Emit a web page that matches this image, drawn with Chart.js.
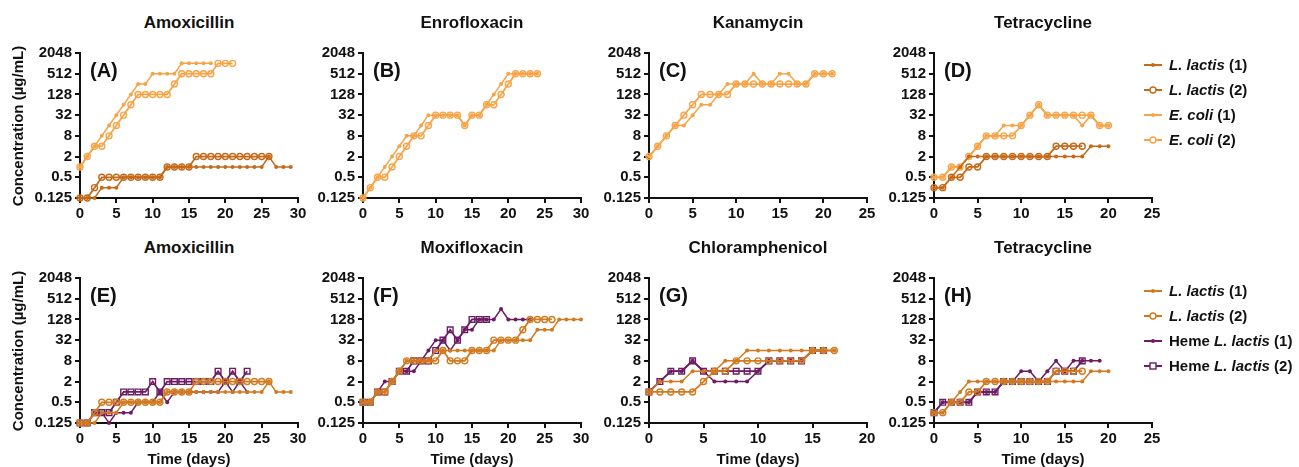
<!DOCTYPE html>
<html>
<head>
<meta charset="utf-8">
<script src="https://cdn.jsdelivr.net/npm/chart.js@4.4.1/dist/chart.umd.min.js"></script>
<style>
    body { margin: 0; background: #fff; }
    #wrap { position: relative; width: 1299px; height: 467px; overflow: hidden; font-family: 'Liberation Sans', Arial, sans-serif; font-weight: bold; color: #111; }
    #wrap canvas { position: absolute; }
    .lbl { position: absolute; white-space: nowrap; }
    .title { font-size: 17px; text-align: center; height: 20px; line-height: 20px; }
    .letter { font-size: 20px; height: 24px; line-height: 24px; }
    .ytitle { font-size: 15px; width: 220px; height: 20px; line-height: 20px; text-align: center; transform: rotate(-90deg); }
    .xtitle { font-size: 15px; text-align: center; height: 20px; line-height: 20px; }
    .leg { font-size: 15px; height: 20px; line-height: 20px; display: flex; align-items: center; }
    .leg svg { margin-right: 7px; }
</style>
</head>
<body>
<div id="wrap"></div>
<script>
const days = [0, 1, 2, 3, 4, 5, 6, 7, 8, 9, 10, 11, 12, 13, 14, 15, 16, 17, 18, 19, 20, 21, 22, 23, 24, 25, 26, 27, 28, 29, 30];
const yTicks = [0.125, 0.5, 2, 8, 32, 128, 512, 2048];

// (A) Amoxicillin
const aLactis1 = [0.125, 0.125, 0.125, 0.25, 0.25, 0.25, 0.5, 0.5, 0.5, 0.5, 0.5, 0.5, 1, 1, 1, 1, 1, 1, 1, 1, 1, 1, 1, 1, 1, 1, 2, 1, 1, 1];
const aLactis2 = [0.125, 0.125, 0.25, 0.5, 0.5, 0.5, 0.5, 0.5, 0.5, 0.5, 0.5, 0.5, 1, 1, 1, 1, 2, 2, 2, 2, 2, 2, 2, 2, 2, 2, 2];
const aColi1 = [1, 2, 4, 8, 16, 32, 64, 128, 256, 256, 512, 512, 512, 512, 1024, 1024, 1024, 1024, 1024];
const aColi2 = [1, 2, 4, 4, 8, 16, 32, 64, 128, 128, 128, 128, 128, 256, 512, 512, 512, 512, 512, 1024, 1024, 1024];

// (B) Enrofloxacin
const bColi1 = [0.125, 0.25, 0.5, 1, 2, 4, 8, 8, 16, 32, 32, 32, 32, 32, 16, 32, 32, 64, 128, 256, 512, 512, 512, 512, 512];
const bColi2 = [0.125, 0.25, 0.5, 0.5, 1, 2, 4, 8, 8, 16, 32, 32, 32, 32, 16, 32, 32, 64, 64, 128, 256, 512, 512, 512, 512];

// (C) Kanamycin
const cColi1 = [2, 4, 8, 16, 16, 32, 64, 64, 128, 256, 256, 256, 512, 256, 256, 512, 512, 256, 256, 512, 512, 512];
const cColi2 = [2, 4, 8, 16, 32, 64, 128, 128, 128, 128, 256, 256, 256, 256, 256, 256, 256, 256, 256, 512, 512, 512];

// (D) Tetracycline
const dLactis1 = [0.25, 0.25, 0.5, 1, 2, 2, 2, 2, 2, 2, 2, 2, 2, 2, 2, 2, 2, 2, 4, 4, 4];
const dLactis2 = [0.25, 0.25, 0.5, 0.5, 1, 1, 2, 2, 2, 2, 2, 2, 2, 2, 4, 4, 4, 4];
const dColi1 = [0.5, 0.5, 1, 1, 2, 4, 8, 8, 16, 16, 16, 32, 64, 32, 32, 32, 32, 16, 32, 16, 16];
const dColi2 = [0.5, 0.5, 1, 1, 2, 4, 8, 8, 8, 8, 16, 32, 64, 32, 32, 32, 32, 32, 32, 16, 16];

// (E) Amoxicillin
const eLactis1 = [0.125, 0.125, 0.125, 0.25, 0.25, 0.25, 0.5, 0.5, 0.5, 0.5, 0.5, 0.5, 1, 1, 1, 1, 1, 1, 1, 1, 1, 1, 1, 1, 1, 1, 2, 1, 1, 1];
const eLactis2 = [0.125, 0.125, 0.25, 0.5, 0.5, 0.5, 0.5, 0.5, 0.5, 0.5, 0.5, 0.5, 1, 1, 1, 1, 2, 2, 2, 2, 2, 2, 2, 2, 2, 2, 2];
const eHeme1 = [0.125, 0.125, 0.25, 0.25, 0.125, 0.25, 0.25, 0.25, 0.5, 0.5, 0.5, 1, 0.5, 1, 1, 1, 1, 1, 1, 1, 2, 1, 2, 1];
const eHeme2 = [0.125, 0.125, 0.25, 0.25, 0.25, 0.5, 1, 1, 1, 1, 2, 1, 2, 2, 2, 2, 2, 2, 2, 4, 2, 4, 2, 4];

// (F) Moxifloxacin
const fLactis1 = [0.5, 0.5, 1, 1, 2, 4, 8, 8, 8, 8, 16, 16, 16, 16, 16, 16, 16, 16, 16, 32, 32, 32, 32, 32, 64, 64, 64, 128, 128, 128, 128];
const fLactis2 = [0.5, 0.5, 1, 1, 2, 4, 8, 8, 8, 8, 8, 16, 8, 8, 8, 16, 16, 16, 32, 32, 32, 32, 64, 128, 128, 128, 128];
const fHeme1 = [0.5, 0.5, 1, 2, 2, 4, 4, 4, 8, 16, 32, 32, 16, 32, 64, 64, 128, 128, 128, 256, 128, 128, 128, 128];
const fHeme2 = [0.5, 0.5, 1, 1, 2, 4, 4, 8, 8, 8, 16, 32, 64, 32, 64, 128, 128, 128];

// (G) Chloramphenicol
const gLactis1 = [1, 2, 2, 2, 4, 4, 4, 8, 8, 16, 16, 16, 16, 16, 16, 16, 16, 16];
const gLactis2 = [1, 1, 1, 1, 1, 2, 4, 4, 8, 8, 8, 8, 8, 8, 8, 16, 16, 16];
const gHeme1 = [1, 2, 4, 4, 8, 4, 2, 2, 2, 2, 4, 8, 8, 8, 8, 16, 16];
const gHeme2 = [1, 2, 4, 4, 8, 4, 4, 4, 4, 4, 4, 8, 8, 8, 8, 16, 16];

// (H) Tetracycline
const hLactis1 = [0.25, 0.25, 0.5, 1, 2, 2, 2, 2, 2, 2, 2, 2, 2, 2, 2, 2, 2, 2, 4, 4, 4];
const hLactis2 = [0.25, 0.25, 0.5, 0.5, 1, 1, 2, 2, 2, 2, 2, 2, 2, 2, 4, 4, 4, 4];
const hHeme1 = [0.25, 0.5, 0.5, 0.5, 0.5, 1, 1, 1, 2, 2, 4, 4, 2, 4, 8, 4, 8, 8, 8, 8];
const hHeme2 = [0.25, 0.5, 0.5, 0.5, 0.5, 1, 1, 1, 2, 2, 2, 2, 2, 2, 4, 4, 4, 8];

const topLegend = ['L. lactis (1)', 'L. lactis (2)', 'E. coli (1)', 'E. coli (2)'];
const bottomLegend = ['L. lactis (1)', 'L. lactis (2)', 'Heme L. lactis (1)', 'Heme L. lactis (2)'];

const kinds = {
    lac1: { color: '#C56A19', shape: 'circle', open: false },
    lac2: { color: '#C56A19', shape: 'circle', open: true },
    coli1: { color: '#F6A447', shape: 'circle', open: false },
    coli2: { color: '#F6A447', shape: 'circle', open: true },
    blac1: { color: '#D27A1F', shape: 'circle', open: false },
    blac2: { color: '#D27A1F', shape: 'circle', open: true },
    heme1: { color: '#6D1C64', shape: 'circle', open: false },
    heme2: { color: '#6D1C64', shape: 'rect', open: true }
};

const TOP = 53, BOTTOM = 278, PLOT_W = 218, PLOT_H = 145;

const panels = [
    { letter: 'A', title: 'Amoxicillin', x: 80, y: TOP, xMax: 30, lines: [[aLactis1, 'lac1'], [aLactis2, 'lac2'], [aColi1, 'coli1'], [aColi2, 'coli2']] },
    { letter: 'B', title: 'Enrofloxacin', x: 363, y: TOP, xMax: 30, lines: [[bColi1, 'coli1'], [bColi2, 'coli2']] },
    { letter: 'C', title: 'Kanamycin', x: 649, y: TOP, xMax: 25, lines: [[cColi1, 'coli1'], [cColi2, 'coli2']] },
    { letter: 'D', title: 'Tetracycline', x: 934, y: TOP, xMax: 25, lines: [[dLactis1, 'lac1'], [dLactis2, 'lac2'], [dColi1, 'coli1'], [dColi2, 'coli2']] },
    { letter: 'E', title: 'Amoxicillin', x: 80, y: BOTTOM, xMax: 30, lines: [[eLactis1, 'blac1'], [eLactis2, 'blac2'], [eHeme1, 'heme1'], [eHeme2, 'heme2']] },
    { letter: 'F', title: 'Moxifloxacin', x: 363, y: BOTTOM, xMax: 30, lines: [[fLactis1, 'blac1'], [fLactis2, 'blac2'], [fHeme1, 'heme1'], [fHeme2, 'heme2']] },
    { letter: 'G', title: 'Chloramphenicol', x: 649, y: BOTTOM, xMax: 20, lines: [[gLactis1, 'blac1'], [gLactis2, 'blac2'], [gHeme1, 'heme1'], [gHeme2, 'heme2']] },
    { letter: 'H', title: 'Tetracycline', x: 934, y: BOTTOM, xMax: 25, lines: [[hLactis1, 'blac1'], [hLactis2, 'blac2'], [hHeme1, 'heme1'], [hHeme2, 'heme2']] }
];

Chart.defaults.font.family = `'Liberation Sans', Arial, sans-serif`;
Chart.defaults.font.weight = 'bold';
Chart.defaults.font.size = 15;
Chart.defaults.color = '#111';

const wrap = document.querySelector('#wrap');

function addLabel(cls, html, style) {
    const div = document.createElement('div');
    div.className = `lbl ${cls}`;
    div.innerHTML = html;
    Object.assign(div.style, style);
    wrap.append(div);
}

function makeDataset(values, kind) {
    const k = kinds[kind];
    return {
        data: values.map((v, i) => ({ x: days[i], y: v })),
        borderColor: k.color,
        backgroundColor: k.color,
        borderWidth: k.open ? 1.8 : 1.5,
        pointStyle: k.shape,
        pointRadius: k.open ? (k.shape === 'rect' ? 4 : 3) : 2,
        pointHoverRadius: 0,
        pointBorderWidth: k.open ? 1.4 : 0,
        pointBackgroundColor: k.open ? 'rgba(0,0,0,0)' : k.color,
        pointBorderColor: k.color,
        tension: 0,
        fill: false,
        clip: false
    };
}

function drawPanel(p) {
    const canvas = document.createElement('canvas');
    canvas.width = 80 + PLOT_W + 20;
    canvas.height = 13 + PLOT_H + 30;
    canvas.style.left = `${p.x - 80}px`;
    canvas.style.top = `${p.y - 13}px`;
    wrap.append(canvas);

    new Chart(canvas.getContext('2d'), {
        type: 'line',
        data: { datasets: p.lines.map(([values, kind]) => makeDataset(values, kind)) },
        options: {
            responsive: false,
            animation: false,
            layout: { padding: { top: 13, right: 20, left: 0, bottom: 0 } },
            plugins: { legend: { display: false }, tooltip: { enabled: false } },
            scales: {
                x: {
                    type: 'linear',
                    min: 0,
                    max: p.xMax,
                    ticks: { stepSize: 5, padding: 2, color: '#111', autoSkip: false, maxRotation: 0 },
                    grid: { drawOnChartArea: false, tickLength: 5, color: '#111', lineWidth: 2 },
                    border: { display: true, color: '#111', width: 2 },
                    afterFit: s => { s.height = 30; }
                },
                y: {
                    type: 'logarithmic',
                    min: 0.125,
                    max: 2048,
                    afterBuildTicks: s => { s.ticks = yTicks.map(v => ({ value: v })); },
                    ticks: { padding: 3, color: '#111', autoSkip: false, callback: v => `${v}` },
                    grid: { drawOnChartArea: false, tickLength: 5, color: '#111', lineWidth: 2 },
                    border: { display: true, color: '#111', width: 2 },
                    afterFit: s => { s.width = 80; }
                }
            }
        }
    });

    addLabel('title', p.title, { left: `${p.x}px`, width: `${PLOT_W}px`, top: `${p.y - 40}px` });
    addLabel('letter', `(${p.letter})`, { left: `${p.x + 10}px`, top: `${p.y + 5}px` });
    if (p.y === BOTTOM) {
        addLabel('xtitle', 'Time (days)', { left: `${p.x}px`, width: `${PLOT_W}px`, top: `${p.y + PLOT_H + 26}px` });
    }
}

function legendIcon(kind) {
    const k = kinds[kind];
    let mark = `<circle cx="9" cy="6" r="2" fill="${k.color}"/>`;
    if (k.open && k.shape === 'rect') {
        mark = `<rect x="6" y="3" width="6" height="6" fill="#fff" stroke="${k.color}" stroke-width="1.4"/>`;
    } else if (k.open) {
        mark = `<circle cx="9" cy="6" r="3" fill="#fff" stroke="${k.color}" stroke-width="1.4"/>`;
    }
    return `<svg width="18" height="12"><line x1="0" y1="6" x2="18" y2="6" stroke="${k.color}" stroke-width="2"/>${mark}</svg>`;
}

function drawLegend(names, kindList, firstY) {
    names.forEach((name, i) => {
        const text = name.replace(/(L\. lactis|E\. coli)/, '<i>$1</i>');
        addLabel('leg', legendIcon(kindList[i]) + `<span>${text}</span>`, { left: '1144px', top: `${firstY + i * 25 - 10}px` });
    });
}

panels.forEach(drawPanel);

addLabel('ytitle', 'Concentration (µg/mL)', { left: `${18 - 110}px`, top: `${TOP + PLOT_H / 2 - 10}px` });
addLabel('ytitle', 'Concentration (µg/mL)', { left: `${18 - 110}px`, top: `${BOTTOM + PLOT_H / 2 - 10}px` });

drawLegend(topLegend, ['lac1', 'lac2', 'coli1', 'coli2'], 65);
drawLegend(bottomLegend, ['blac1', 'blac2', 'heme1', 'heme2'], 291);
</script>
</body>
</html>
